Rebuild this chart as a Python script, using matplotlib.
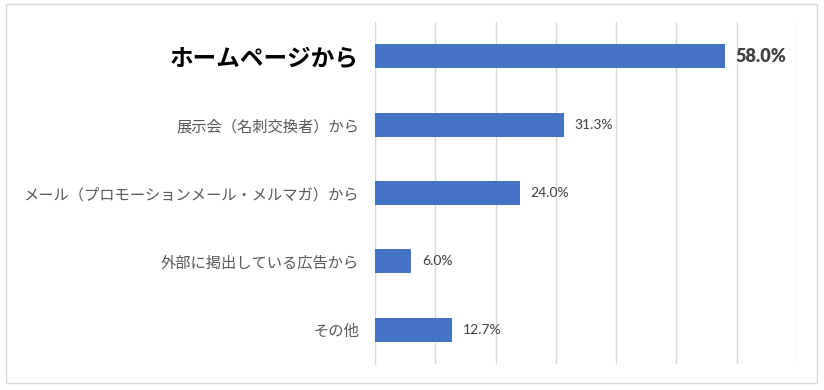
"""
Horizontal bar chart: how respondents learned about the company.
"""

import matplotlib
matplotlib.use("Agg")
import matplotlib.pyplot as plt
from matplotlib.patches import Rectangle

categories = [
    "ホームページから",
    "展示会（名刺交換者）から",
    "メール（プロモーションメール・メルマガ）から",
    "外部に掲出している広告から",
    "その他",
]
values = [58.0, 31.3, 24.0, 6.0, 12.7]

BAR_COLOR = "#4472C4"
GRID_COLOR = "#D9D9D9"

plt.rcParams["font.family"] = ["Noto Sans CJK JP", "DejaVu Sans"]

fig = plt.figure(figsize=(8.24, 3.9), dpi=100)
ax = fig.add_axes([375 / 824, 26 / 390, 422 / 824, 342 / 390])

pos = list(range(len(categories)))
ax.barh(pos, values, height=0.35, color=BAR_COLOR, zorder=3)

ax.set_xlim(0, 70)
ax.set_ylim(len(categories) - 0.5, -0.5)
ax.set_xticks(range(0, 71, 10))
ax.xaxis.grid(True, color=GRID_COLOR, linewidth=1)
ax.tick_params(axis="x", length=0, labelbottom=False)
ax.tick_params(axis="y", length=0, pad=11.5)
for side in ["top", "right", "bottom"]:
    ax.spines[side].set_visible(False)
ax.spines["left"].set_color(GRID_COLOR)

ax.set_yticks(pos)
ax.set_yticklabels(categories)
for i, lbl in enumerate(ax.get_yticklabels()):
    if i == 0:
        lbl.set_fontsize(17)
        lbl.set_fontweight("bold")
        lbl.set_color("black")
    else:
        lbl.set_fontsize(11)
        lbl.set_color("#595959")

# value labels next to the bars
for i, v in enumerate(values):
    if i == 0:
        ax.annotate(f"{v:.1f}%", (v, i), xytext=(8, 0), textcoords="offset points",
                    va="center", ha="left", fontsize=13, fontweight="heavy",
                    color="#404040", family=["Lato", "DejaVu Sans"])
    else:
        ax.annotate(f"{v:.1f}%", (v, i), xytext=(8, 0), textcoords="offset points",
                    va="center", ha="left", fontsize=10,
                    color="#404040", family=["Lato", "DejaVu Sans"])

# chart area border
fig.patches.append(Rectangle((6 / 824, 7 / 390), 811 / 824, 379 / 390,
                             transform=fig.transFigure, fill=False,
                             edgecolor=GRID_COLOR, linewidth=1))

fig.savefig("out.png", dpi=100)
